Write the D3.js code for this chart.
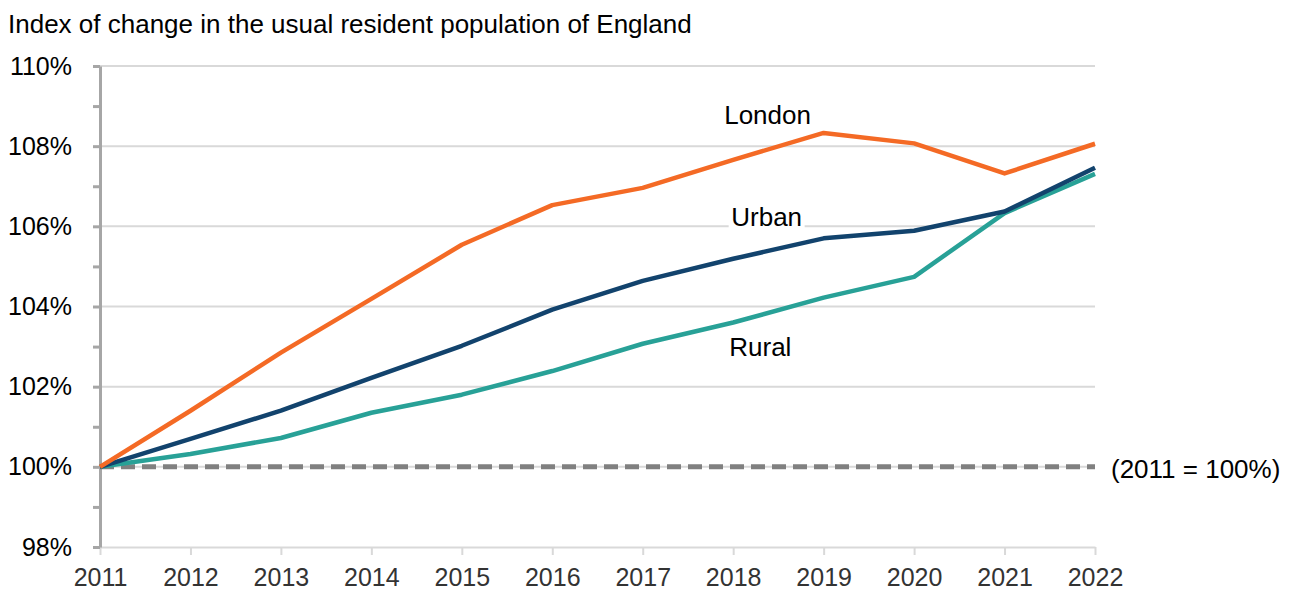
<!DOCTYPE html>
<html>
<head>
<meta charset="utf-8">
<script src="https://cdn.jsdelivr.net/npm/d3@7"></script>
<style>
  body { margin: 0; background: #fff; }
  svg { font-family: "Liberation Sans", Arial, sans-serif; }
</style>
</head>
<body>
<svg width="1294" height="595"></svg>
<script>
// values (index, 2011 = 100)
var years = [2011, 2012, 2013, 2014, 2015, 2016, 2017, 2018, 2019, 2020, 2021, 2022];
var london = [100, 101.40, 102.85, 104.19, 105.54, 106.53, 106.96, 107.66, 108.33, 108.07, 107.32, 108.06];
var urban  = [100, 100.70, 101.40, 102.22, 103.02, 103.92, 104.64, 105.19, 105.70, 105.89, 106.37, 107.46];
var rural  = [100, 100.32, 100.72, 101.35, 101.80, 102.39, 103.07, 103.60, 104.22, 104.74, 106.33, 107.31];
var yTicks = [98, 100, 102, 104, 106, 108, 110];

var svg = d3.select("svg"),
    margin = {top: 66, right: 199, bottom: 48, left: 100},
    width = 1294 - margin.left - margin.right,
    height = 595 - margin.top - margin.bottom,
    g = svg.append("g").attr("transform", "translate(" + margin.left + "," + margin.top + ")");

var x = d3.scaleLinear().domain([2011, 2022]).range([0, width]),
    y = d3.scaleLinear().domain([98, 110]).range([height, 0]);

svg.append("text")
    .attr("x", 8)
    .attr("y", 33)
    .attr("font-size", 26)
    .attr("fill", "#000")
    .text("Index of change in the usual resident population of England");

// gridlines
g.selectAll(".grid")
  .data(yTicks.slice(1))
  .enter().append("line")
    .attr("x1", 0)
    .attr("x2", width)
    .attr("y1", function(d) { return y(d); })
    .attr("y2", function(d) { return y(d); })
    .attr("stroke", "#d9d9d9")
    .attr("stroke-width", 2);

// x axis
var xAxis = g.append("g")
    .attr("transform", "translate(0," + height + ")")
    .call(d3.axisBottom(x).tickValues(years).tickFormat(d3.format("d")).tickSize(8).tickSizeOuter(0));
xAxis.select(".domain").attr("stroke", "#d9d9d9").attr("stroke-width", 2);
xAxis.selectAll(".tick line").attr("stroke", "#d9d9d9").attr("stroke-width", 2);
xAxis.selectAll(".tick text")
    .attr("font-size", 25)
    .attr("font-family", "Liberation Sans, Arial, sans-serif")
    .attr("fill", "#333")
    .attr("dy", "1.1em");

// y axis
var yAxis = g.append("g")
    .call(d3.axisLeft(y).ticks(12).tickSize(7).tickSizeOuter(0)
      .tickFormat(function(d) { return d % 2 === 0 ? d + "%" : ""; }));
yAxis.select(".domain").attr("stroke", "#a6a6a6").attr("stroke-width", 3);
yAxis.selectAll(".tick line").attr("stroke", "#a6a6a6").attr("stroke-width", 3);
yAxis.selectAll(".tick text")
    .attr("font-size", 25)
    .attr("font-family", "Liberation Sans, Arial, sans-serif")
    .attr("fill", "#000")
    .attr("x", -28);

// baseline
g.append("line")
    .attr("x1", x(2011))
    .attr("x2", x(2022))
    .attr("y1", y(100))
    .attr("y2", y(100))
    .attr("stroke", "#808080")
    .attr("stroke-width", 5)
    .attr("stroke-dasharray", "14,7");

g.append("text")
    .attr("x", width + 16)
    .attr("y", y(100) + 11)
    .attr("font-size", 26)
    .attr("fill", "#000")
    .text("(2011 = 100%)");

var series = [
  {id: "Rural", values: rural, color: "#28a197"},
  {id: "Urban", values: urban, color: "#12436d"},
  {id: "London", values: london, color: "#f46a25"}
];

var line = d3.line()
    .x(function(d, i) { return x(years[i]); })
    .y(function(d) { return y(d); });

g.selectAll(".series")
  .data(series)
  .enter().append("path")
    .attr("fill", "none")
    .attr("stroke", function(d) { return d.color; })
    .attr("stroke-width", 4.5)
    .attr("stroke-linejoin", "round")
    .attr("d", function(d) { return line(d.values); });

// labels
var labels = [
  {text: "London", year: 2018.38, value: 108.55},
  {text: "Urban", year: 2018.37, value: 106.02},
  {text: "Rural", year: 2018.3, value: 102.77}
];

var lab = g.selectAll(".lab")
  .data(labels)
  .enter().append("g")
    .attr("transform", function(d) { return "translate(" + x(d.year) + "," + y(d.value) + ")"; });

lab.append("rect")
    .attr("x", -38)
    .attr("y", -22)
    .attr("width", 76)
    .attr("height", 28)
    .attr("fill", "#fff");

lab.append("text")
    .attr("text-anchor", "middle")
    .attr("font-size", 26)
    .attr("fill", "#000")
    .text(function(d) { return d.text; });
</script>
</body>
</html>
